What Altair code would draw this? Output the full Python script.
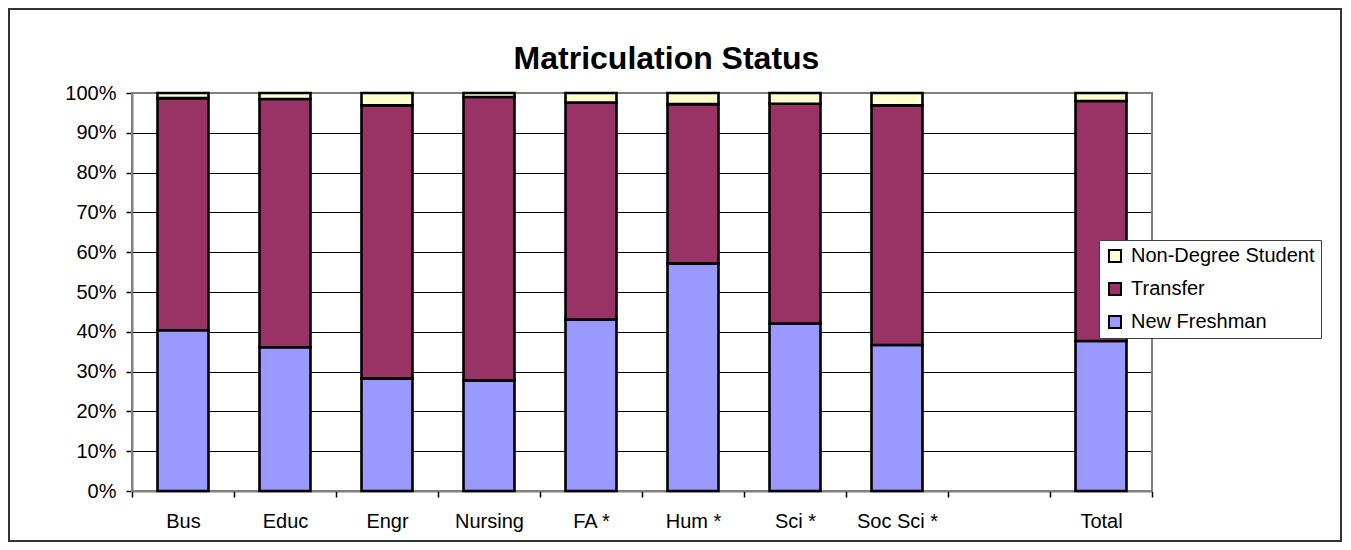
import altair as alt
import pandas as pd

categories = ["Bus", "Educ", "Engr", "Nursing", "FA *", "Hum *", "Sci *", "Soc Sci *", " ", "Total"]
data_categories = ["Bus", "Educ", "Engr", "Nursing", "FA *", "Hum *", "Sci *", "Soc Sci *", "Total"]
new_freshman = [40.4, 36.1, 28.3, 27.8, 43.1, 57.2, 42.1, 36.7, 37.7]
transfer = [58.3, 62.4, 68.6, 71.2, 54.5, 40.0, 55.2, 60.2, 60.3]
non_degree = [1.3, 1.5, 3.1, 1.0, 2.4, 2.8, 2.7, 3.1, 2.0]

series_names = ["Non-Degree Student", "Transfer", "New Freshman"]
series_colors = ["#FFFFCC", "#993366", "#9999FF"]
stack_rank = {"New Freshman": 0, "Transfer": 1, "Non-Degree Student": 2}

rows = []
for i, c in enumerate(data_categories):
    for name, vals in (("New Freshman", new_freshman), ("Transfer", transfer), ("Non-Degree Student", non_degree)):
        rows.append({"cat": c, "series": name, "value": vals[i], "rank": stack_rank[name]})
df = pd.DataFrame(rows)

FONT = "Liberation Sans"
W, H = 1020, 398

bars = alt.Chart(df).mark_bar(stroke="black", strokeWidth=2.6, width=alt.RelativeBandSize(0.5)).encode(
    x=alt.X("cat:N", sort=categories,
            scale=alt.Scale(domain=categories, paddingInner=0, paddingOuter=0),
            axis=alt.Axis(title=None, labelAngle=0, labelFontSize=20, labelFont=FONT,
                          labelColor="black", tickBand="extent", tickSize=6, tickColor="black",
                          tickWidth=1.5, domainColor="black", domainWidth=1.5, labelPadding=14)),
    y=alt.Y("value:Q", stack="zero",
            scale=alt.Scale(domain=[0, 100], nice=False),
            axis=alt.Axis(title=None, values=[0, 10, 20, 30, 40, 50, 60, 70, 80, 90, 100],
                          labelExpr="datum.value + '%'", labelFontSize=20, labelFont=FONT,
                          labelColor="black", tickSize=6, tickColor="black", tickWidth=1.5,
                          domainColor="black", domainWidth=1.5, labelPadding=10,
                          grid=True, gridColor="#000000", gridWidth=1)),
    color=alt.Color("series:N",
                    scale=alt.Scale(domain=series_names, range=series_colors),
                    legend=alt.Legend(title=None, orient="none", legendX=967, legendY=147,
                                      symbolType="square", symbolSize=144,
                                      symbolStrokeColor="black", symbolStrokeWidth=2,
                                      labelFontSize=20, labelFont=FONT, labelColor="black",
                                      labelLimit=400, labelOffset=6, rowPadding=13, padding=6,
                                      strokeColor="#404040", fillColor="white")),
    order=alt.Order("rank:Q", sort="ascending"),
)

one = alt.Data(values=[{"t": "Matriculation Status"}])

title = alt.Chart(one).mark_text(
    fontSize=32, fontWeight="bold", font=FONT, color="black",
    align="center", baseline="alphabetic"
).encode(text="t:N", x=alt.value(534.5), y=alt.value(-24))

frame = alt.Chart(one).mark_rect(fill="white", fillOpacity=0, stroke="#333333", strokeWidth=2).encode(
    x=alt.value(-123), x2=alt.value(1209), y=alt.value(-84), y2=alt.value(448)
)

plot_border = alt.Chart(one).mark_rect(fill="white", fillOpacity=0, stroke="#808080", strokeWidth=2).encode(
    x=alt.value(0), x2=alt.value(W), y=alt.value(0), y2=alt.value(H)
)

chart = alt.layer(frame, plot_border, bars, title).properties(
    width=W, height=H,
    autosize=alt.AutoSizeParams(type="none"),
    padding={"left": 124, "top": 85, "right": 191, "bottom": 51},
).configure_view(stroke="#808080", strokeWidth=2).configure(background="white")

chart.save("out.html", embed_options={"renderer": "svg", "actions": False})
